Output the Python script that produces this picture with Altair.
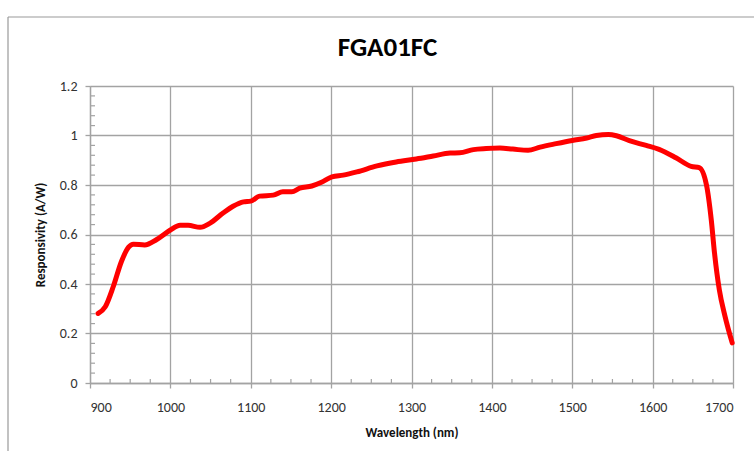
import altair as alt
import pandas as pd

wavelength = [910, 919, 929, 939, 948, 954, 968, 983, 1000, 1012, 1022, 1037, 1049,
              1066, 1078, 1091, 1100, 1111, 1128, 1140, 1151, 1161, 1176, 1188, 1201,
              1215, 1232, 1257, 1281, 1306, 1327, 1348, 1360, 1377, 1393, 1410, 1426,
              1445, 1460, 1480, 1500, 1518, 1530, 1545, 1555, 1571, 1592, 1608, 1629,
              1648, 1658, 1667, 1673, 1677, 1683, 1690, 1699]
responsivity = [0.281, 0.308, 0.39, 0.49, 0.549, 0.561, 0.558, 0.58, 0.618, 0.637, 0.637,
                0.629, 0.645, 0.688, 0.714, 0.732, 0.735, 0.755, 0.759, 0.773, 0.773,
                0.787, 0.796, 0.811, 0.833, 0.84, 0.853, 0.877, 0.893, 0.905, 0.917,
                0.929, 0.93, 0.943, 0.947, 0.949, 0.945, 0.94, 0.953, 0.967, 0.98, 0.99,
                1.0, 1.004, 0.999, 0.979, 0.96, 0.944, 0.91, 0.875, 0.87, 0.80, 0.658,
                0.525, 0.376, 0.27, 0.162]

x_ticks = [900, 1000, 1100, 1200, 1300, 1400, 1500, 1600, 1700]
y_ticks = [0, 0.2, 0.4, 0.6, 0.8, 1.0, 1.2]
x_minor = [v for v in range(900, 1701, 25) if v % 100 != 0]
y_minor = [round(i * 0.04, 2) for i in range(31) if i % 5 != 0]

W, H = 643, 297
FONT = "Calibri, Carlito, Lato"
GRID = "#a3a3a3"

df = pd.DataFrame({"wl": wavelength, "r": responsivity})
xs = alt.Scale(domain=[900, 1700], nice=False, zero=False)
ys = alt.Scale(domain=[0, 1.2], nice=False)
xaxis = alt.Axis(values=x_ticks, format="d", grid=True)
yaxis = alt.Axis(values=y_ticks, format="~g", grid=True)
XT = "Wavelength (nm)"
YT = "Responsivity (A/W)"

line = alt.Chart(df).mark_line(color="#ff0000", strokeWidth=5, interpolate="monotone",
                               strokeCap="round", strokeJoin="round").encode(
    x=alt.X("wl:Q", scale=xs, title=XT, axis=xaxis),
    y=alt.Y("r:Q", scale=ys, title=YT, axis=yaxis),
)

xminor = alt.Chart(pd.DataFrame({"m": x_minor})).mark_rule(color=GRID, strokeWidth=1.2).encode(
    x=alt.X("m:Q", scale=xs, title=XT, axis=xaxis), y=alt.value(H), y2=alt.value(H - 4))
yminor = alt.Chart(pd.DataFrame({"m": y_minor})).mark_rule(color=GRID, strokeWidth=1.2).encode(
    y=alt.Y("m:Q", scale=ys, title=YT, axis=yaxis), x=alt.value(0), x2=alt.value(5))

frame_top = alt.Chart(pd.DataFrame({"a": [0]})).mark_rule(color="#999999", strokeWidth=1.2).encode(
    x=alt.value(-82), x2=alt.value(700), y=alt.value(-69))
frame_left = alt.Chart(pd.DataFrame({"a": [0]})).mark_rule(color="#999999", strokeWidth=1.2).encode(
    x=alt.value(-82), y=alt.value(-69), y2=alt.value(400))

chart = alt.layer(frame_top, frame_left, xminor, yminor, line).properties(
    width=W, height=H,
    autosize=alt.AutoSizeParams(type="none"),
    padding={"left": 90, "top": 86, "right": 21, "bottom": 68},
    title=alt.TitleParams("FGA01FC", font=FONT, fontSize=27, fontWeight="bold",
                          color="#000000", anchor="middle", dx=-24, frame="group",
                          baseline="alphabetic", offset=-67),
).configure_view(stroke=None).configure_axis(
    gridColor=GRID, gridWidth=1.3, domainColor=GRID, domainWidth=1.3,
    tickColor=GRID, tickWidth=1.3, tickSize=5,
    labelFont=FONT, labelFontSize=14, labelColor="#333333",
    titleFont=FONT, titleFontSize=13, titleFontWeight="bold", titleColor="#111111",
).configure_axisX(labelPadding=12, titlePadding=12).configure_axisY(
    labelPadding=8, titlePadding=12)

chart.save("out.html", embed_options={"renderer": "svg", "actions": False})
